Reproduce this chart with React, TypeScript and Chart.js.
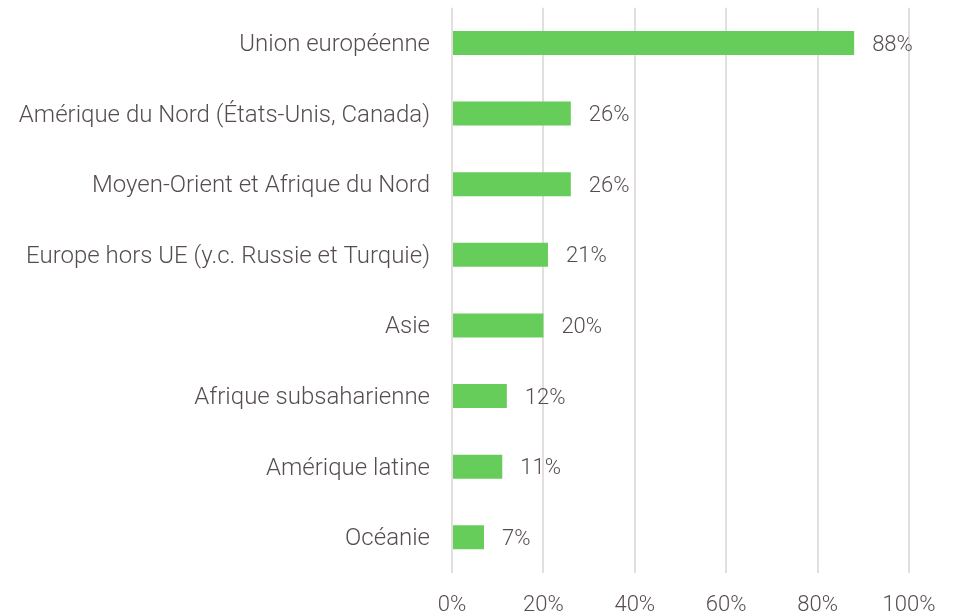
import React, { useEffect, useRef } from "react";
import { Chart, registerables } from "chart.js";

Chart.register(...registerables);

const categories = [
  "Union européenne",
  "Amérique du Nord (États-Unis, Canada)",
  "Moyen-Orient et Afrique du Nord",
  "Europe hors UE (y.c. Russie et Turquie)",
  "Asie",
  "Afrique subsaharienne",
  "Amérique latine",
  "Océanie",
];
const values = [88, 26, 26, 21, 20, 12, 11, 7];
const tickValues = [0, 20, 40, 60, 80, 100];

const TEXT = "#564e4e";
const FONT = "Roboto, 'Noto Sans', sans-serif";

const valueLabels = {
  id: "valueLabels",
  afterDatasetsDraw(chart: any) {
    const ctx = chart.ctx;
    const meta = chart.getDatasetMeta(0);
    ctx.save();
    ctx.fillStyle = TEXT;
    ctx.font = `300 22px ${FONT}`;
    ctx.textAlign = "left";
    ctx.textBaseline = "middle";
    meta.data.forEach((bar: any, i: number) => {
      ctx.fillText(values[i] + "%", bar.x + 18, bar.y + 2);
    });
    ctx.restore();
  },
};

export default function App() {
  const ref = useRef<HTMLCanvasElement>(null);
  useEffect(() => {
    document.body.style.margin = "0";
    const chart = new Chart(ref.current!, {
      type: "bar",
      data: {
        labels: categories,
        datasets: [
          {
            data: values,
            backgroundColor: "#66cc5a",
            barPercentage: 0.34,
            categoryPercentage: 1,
          },
        ],
      },
      options: {
        indexAxis: "y",
        animation: false,
        responsive: false,
        layout: { padding: { top: 7.7, right: 50, left: 0, bottom: 0 } },
        plugins: { legend: { display: false }, tooltip: { enabled: false } },
        scales: {
          x: {
            min: 0,
            max: 100,
            afterFit: (s: any) => {
              s.height = 42.4;
              s.paddingLeft = 0;
              s.paddingRight = 0;
            },
            afterBuildTicks: (s: any) => {
              s.ticks = tickValues.map((v) => ({ value: v }));
            },
            ticks: {
              padding: 20,
              color: TEXT,
              font: { size: 22, family: FONT, weight: "300" },
              callback: (v: any) => v + "%",
            },
            grid: { color: "#e3dfdf", lineWidth: 2, drawTicks: false },
            border: { display: false },
          },
          y: {
            afterFit: (s: any) => {
              s.width = 452;
              s.paddingTop = 0;
              s.paddingBottom = 0;
            },
            ticks: {
              padding: 22,
              labelOffset: 2,
              color: TEXT,
              font: { size: 24, family: FONT, weight: "300" },
            },
            grid: { display: false, drawTicks: false },
            border: { display: false },
          },
        },
      },
      plugins: [valueLabels],
    });
    return () => chart.destroy();
  }, []);
  return <canvas ref={ref} width={959} height={615} style={{ display: "block" }} />;
}
